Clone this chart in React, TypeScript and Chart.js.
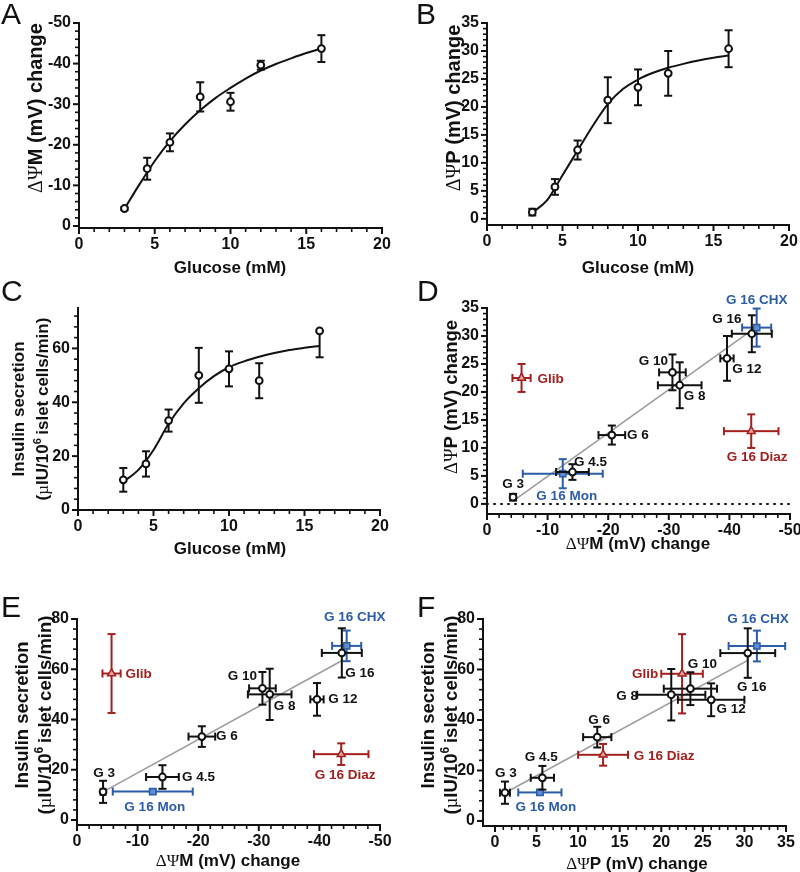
import React, { useEffect, useRef } from 'react';
import { Chart, registerables } from 'chart.js';
Chart.register(...registerables);

// ---------------- data ----------------
const glucose = [3, 4.5, 6, 8, 10, 12, 16];
const glucoseLabels = ['G 3', 'G 4.5', 'G 6', 'G 8', 'G 10', 'G 12', 'G 16'];
const dPsiM = [-4.3, -14.1, -20.6, -31.8, -30.6, -39.6, -43.7];
const dPsiMErr = [0.4, 2.7, 2.2, 3.6, 2.2, 1.1, 3.3];
const dPsiP = [1.2, 5.7, 12.3, 21.2, 23.5, 26.0, 30.4];
const dPsiPErr = [0.6, 1.4, 1.7, 4.1, 3.2, 4.0, 3.3];
const insulin = [11.2, 17.1, 33.2, 50.0, 52.4, 48.0, 66.5];
const insulinErr = [4.4, 4.7, 4.1, 10.2, 6.5, 6.5, 9.8];

const redLabels = ['Glib', 'G 16 Diaz'];
const redM = [-5.7, -43.6];
const redMErr = [1.5, 4.5];
const redP = [22.5, 13.0];
const redPErr = [2.5, 3.0];
const redIns = [58.3, 26.2];
const redInsErr = [15.7, 4.3];

const blueLabels = ['G 16 CHX', 'G 16 Mon'];
const blueM = [-44.5, -12.5];
const blueMErr = [2.4, 6.6];
const blueP = [31.5, 5.4];
const bluePErr = [3.4, 2.6];
const blueIns = [69.3, 11.3];
const blueInsErr = [6.1, 0.8];

// fitted curves
const fitGlucose = [3, 4, 5, 6, 7, 8, 9, 10, 11, 12, 13, 14, 15, 16];
const fitM = [-4.2, -10.3, -16.0, -20.9, -25.0, -28.5, -31.5, -34.0, -36.3, -38.3, -39.9, -41.3, -42.6, -43.7];
const fitP = [1.1, 3.4, 7.8, 12.2, 16.6, 20.5, 23.2, 24.9, 26.1, 27.0, 27.7, 28.3, 28.8, 29.2];
const fitIns = [10.5, 14.9, 22.3, 32.0, 39.6, 45.2, 49.7, 53.0, 55.2, 56.9, 58.3, 59.4, 60.2, 60.9];

// regression lines
const regDx = [-4.4, -44.3];
const regDy = [0.6, 31.5];
const regEx = [-4.3, -43.9];
const regEy = [11.2, 63.7];
const regFx = [1.2, 30.5];
const regFy = [11.1, 63.8];
const zeroX = [0, -50];
const zeroY = [0, 0];

// ---------------- styles ----------------
const SANS = '"Liberation Sans", Arial, sans-serif';
const SERIF = '"Liberation Serif", "DejaVu Serif", serif';
const BLACK = '#111111';
const BLUE = '#2b5ca8';
const BLUE_FILL = '#5d8dd2';
const RED = '#a3201e';
const RED_FILL = '#e7a2a0';
const GREY = '#9c9c9c';

const pts = (xs: number[], ys: number[]) => xs.map((x, i) => ({ x, y: ys[i] }));

const psiTitle = (letter: string, size: number) => [
  { t: 'ΔΨ', f: `${size}px ${SERIF}` },
  { t: letter + ' (mV) change', f: `bold ${size}px ${SANS}` },
];
const insTitle1 = (size: number) => [{ t: 'Insulin secretion', f: `bold ${size}px ${SANS}` }];
const insTitle2 = (size: number) => [
  { t: '(', f: `bold ${size}px ${SANS}` },
  { t: 'µ', f: `${size}px ${SERIF}` },
  { t: 'IU/10', f: `bold ${size}px ${SANS}` },
  { t: '6', f: `bold ${Math.round(size * 0.65)}px ${SANS}`, dy: -Math.round(size * 0.42) },
  { t: '\u2009islet cells/min)', f: `bold ${size}px ${SANS}` },
];
const glucoseTitle = [{ t: 'Glucose (mM)', f: `bold 17px ${SANS}` }];
const letter = (t: string) => [{ t, f: `30px ${SANS}` }];

// ---------------- dataset builders ----------------
function lineSet(xs: number[], ys: number[], color: string, width: number, order: number, dash?: number[], tension = 0) {
  return {
    data: pts(xs, ys), showLine: true, pointRadius: 0, borderColor: color, borderWidth: width,
    borderDash: dash || [], tension, cubicInterpolationMode: tension ? 'monotone' : 'default', order,
    borderCapStyle: dash ? 'round' : 'butt', clip: false,
  };
}
function blackSet(xs: number[], ys: number[], ex: number[] | null, ey: number[] | null) {
  return {
    key: 'black', data: pts(xs, ys), pointStyle: 'circle', pointRadius: 3.4, pointBorderWidth: 2,
    backgroundColor: '#ffffff', borderColor: BLACK, errX: ex, errY: ey, errColor: BLACK, order: 1, clip: false,
  };
}
function blueSet(xs: number[], ys: number[], ex: number[], ey: number[]) {
  return {
    key: 'blue', data: pts(xs, ys), pointStyle: 'rect', pointRadius: 4.4, pointBorderWidth: 1.5,
    backgroundColor: BLUE_FILL, borderColor: BLUE, errX: ex, errY: ey, errColor: BLUE, order: 2, clip: false,
  };
}
function redSet(xs: number[], ys: number[], ex: number[], ey: number[]) {
  return {
    key: 'red', data: pts(xs, ys), pointStyle: 'triangle', pointRadius: 4.6, pointBorderWidth: 1.5,
    backgroundColor: RED_FILL, borderColor: RED, errX: ex, errY: ey, errColor: RED, order: 3, clip: false,
  };
}

// ---------------- plugins ----------------
const errorBarPlugin = {
  id: 'errbars',
  beforeDatasetDraw(chart: any, args: any) {
    const ds: any = chart.data.datasets[args.index];
    if (!ds.errX && !ds.errY) return;
    const meta = args.meta;
    const xs = chart.scales[meta.xAxisID];
    const ys = chart.scales[meta.yAxisID];
    const ctx = chart.ctx;
    const cap = 4;
    ctx.save();
    ctx.strokeStyle = ds.errColor;
    ctx.lineWidth = 2;
    const seg = (a: number, b: number, c: number, d: number) => {
      ctx.beginPath(); ctx.moveTo(a, b); ctx.lineTo(c, d); ctx.stroke();
    };
    ds.data.forEach((p: any, i: number) => {
      const px = xs.getPixelForValue(p.x);
      const py = ys.getPixelForValue(p.y);
      if (ds.errY) {
        for (const s of [1, -1]) {
          const v = p.y + s * ds.errY[i];
          if (v > ys.max || v < ys.min) continue;
          const q = ys.getPixelForValue(v);
          seg(px, py, px, q);
          seg(px - cap, q, px + cap, q);
        }
      }
      if (ds.errX) {
        for (const s of [1, -1]) {
          const v = p.x + s * ds.errX[i];
          if (v > xs.max || v < xs.min) continue;
          const q = xs.getPixelForValue(v);
          seg(px, py, q, py);
          seg(q, py - cap, q, py + cap);
        }
      }
    });
    ctx.restore();
  },
};

function ticksPlugin(spec: any) {
  return {
    id: 'axisTicks',
    afterDraw(chart: any) {
      const ctx = chart.ctx;
      const a = chart.chartArea;
      ctx.save();
      ctx.strokeStyle = BLACK;
      const draw = (axis: string, sp: any) => {
        const sc = chart.scales[axis];
        const n = Math.round((sp.to - sp.from) / sp.minor);
        for (let k = 0; k <= n; k++) {
          const v = sp.from + k * sp.minor;
          const r = v / sp.major;
          const major = Math.abs(r - Math.round(r)) < 1e-6;
          const len = major ? 6 : 4;
          ctx.lineWidth = major ? 2 : 1.6;
          const p = sc.getPixelForValue(v);
          ctx.beginPath();
          if (axis === 'x') { ctx.moveTo(p, a.bottom); ctx.lineTo(p, a.bottom + len); }
          else { ctx.moveTo(a.left, p); ctx.lineTo(a.left - len, p); }
          ctx.stroke();
        }
      };
      draw('x', spec.x);
      draw('y', spec.y);
      ctx.restore();
    },
  };
}

function labelsPlugin(items: any[]) {
  return {
    id: 'ptLabels',
    afterDatasetsDraw(chart: any) {
      const ctx = chart.ctx;
      ctx.save();
      ctx.font = `bold 13.5px ${SANS}`;
      ctx.textAlign = 'center';
      ctx.textBaseline = 'middle';
      for (const it of items) {
        const idx = chart.data.datasets.findIndex((d: any) => d.key === it.key);
        const el = chart.getDatasetMeta(idx).data[it.i];
        ctx.fillStyle = it.color;
        ctx.fillText(it.text, el.x + it.dx, el.y + it.dy);
      }
      ctx.restore();
    },
  };
}

function textPlugin(items: any[], origin: any) {
  return {
    id: 'richText',
    afterDraw(chart: any) {
      const ctx = chart.ctx;
      for (const it of items) {
        ctx.save();
        ctx.translate(it.x - origin.x, it.y - origin.y);
        if (it.rot) ctx.rotate(-Math.PI / 2);
        ctx.textAlign = 'left';
        ctx.textBaseline = 'alphabetic';
        ctx.fillStyle = BLACK;
        let w = 0;
        for (const s of it.segs) { ctx.font = s.f; w += ctx.measureText(s.t).width; }
        let cx = it.align === 'left' ? 0 : -w / 2;
        const base = it.shift ?? 6;
        for (const s of it.segs) {
          ctx.font = s.f;
          ctx.fillText(s.t, cx, base + (s.dy || 0));
          cx += ctx.measureText(s.t).width;
        }
        ctx.restore();
      }
    },
  };
}

function makeLabels(off: any) {
  const out: any[] = [];
  const groups: any = { black: [glucoseLabels, BLACK], red: [redLabels, RED], blue: [blueLabels, BLUE] };
  for (const key of Object.keys(off)) {
    const [texts, color] = groups[key];
    off[key].forEach((o: number[], i: number) => out.push({ key, i, text: texts[i], dx: o[0], dy: o[1], color }));
  }
  return out;
}

// ---------------- panels ----------------
const panels: any[] = [
  {
    rect: { x: 0, y: 0, w: 400, h: 280 }, area: { l: 79, r: 382, t: 23, b: 228 },
    x: { min: 0, max: 20, step: 5 }, y: { min: -50, max: 0.5, step: 10, reverse: true },
    ticks: { x: { from: 0, to: 20, major: 5, minor: 1 }, y: { from: -50, to: 0, major: 10, minor: 2 } },
    datasets: [lineSet(fitGlucose, fitM, BLACK, 2, 8, undefined, 0.4), blackSet(glucose, dPsiM, null, dPsiMErr)],
    labels: [],
    texts: [
      { x: 1, y: 13, segs: letter('A'), align: 'left', shift: 11 },
      { x: 35, y: 108, rot: true, segs: psiTitle('M', 20), shift: 7 },
      { x: 230, y: 267, segs: glucoseTitle },
    ],
  },
  {
    rect: { x: 400, y: 0, w: 400, h: 280 }, area: { l: 487, r: 789, t: 23, b: 225 },
    x: { min: 0, max: 20, step: 5 }, y: { min: -1.1, max: 35, step: 5 },
    ticks: { x: { from: 0, to: 20, major: 5, minor: 1 }, y: { from: 0, to: 35, major: 5, minor: 1 } },
    datasets: [lineSet(fitGlucose, fitP, BLACK, 2, 8, undefined, 0.4), blackSet(glucose, dPsiP, null, dPsiPErr)],
    labels: [],
    texts: [
      { x: 416, y: 13, segs: letter('B'), align: 'left', shift: 11 },
      { x: 453, y: 108, rot: true, segs: psiTitle('P', 20), shift: 7 },
      { x: 638, y: 267, segs: glucoseTitle },
    ],
  },
  {
    rect: { x: 0, y: 275, w: 400, h: 300 }, area: { l: 78, r: 380, t: 308, b: 510 },
    x: { min: 0, max: 20, step: 5 }, y: { min: 0, max: 75, step: 20 },
    ticks: { x: { from: 0, to: 20, major: 5, minor: 1 }, y: { from: 0, to: 72, major: 20, minor: 4 } },
    datasets: [lineSet(fitGlucose, fitIns, BLACK, 2, 8, undefined, 0.4), blackSet(glucose, insulin, null, insulinErr)],
    labels: [],
    texts: [
      { x: 1, y: 290, segs: letter('C'), align: 'left', shift: 11 },
      { x: 18, y: 409, rot: true, segs: insTitle1(17) },
      { x: 42, y: 409, rot: true, segs: insTitle2(17) },
      { x: 230, y: 548, segs: glucoseTitle },
    ],
  },
  {
    rect: { x: 400, y: 275, w: 400, h: 300 }, area: { l: 487, r: 790, t: 308, b: 514 },
    x: { min: -50, max: 0, step: 10, reverse: true }, y: { min: -1.8, max: 35, step: 5 },
    ticks: { x: { from: -50, to: 0, major: 10, minor: 2 }, y: { from: 0, to: 35, major: 5, minor: 1 } },
    datasets: [
      lineSet(zeroX, zeroY, BLACK, 2, 9, [1, 6]),
      lineSet(regDx, regDy, GREY, 1.6, 8),
      redSet(redM, redP, redMErr, redPErr),
      blueSet(blueM, blueP, blueMErr, bluePErr),
      blackSet(dPsiM, dPsiP, dPsiMErr, dPsiPErr),
    ],
    labels: makeLabels({
      black: [[0, -13], [18, -10], [26, 0], [15, 11], [-19, -11], [20, 11], [-25, -14]],
      red: [[29, 1], [6, 26]],
      blue: [[0, -27], [4, 23]],
    }),
    texts: [
      { x: 417, y: 290, segs: letter('D'), align: 'left', shift: 11 },
      { x: 450, y: 397, rot: true, segs: psiTitle('P', 18.5), shift: 7 },
      { x: 638, y: 543, segs: psiTitle('M', 17) },
    ],
  },
  {
    rect: { x: 0, y: 575, w: 400, h: 297 }, area: { l: 77, r: 380, t: 619, b: 825 },
    x: { min: -50, max: 0, step: 10, reverse: true }, y: { min: -2, max: 80, step: 20 },
    ticks: { x: { from: -50, to: 0, major: 10, minor: 2 }, y: { from: 0, to: 80, major: 20, minor: 4 } },
    datasets: [
      lineSet(regEx, regEy, GREY, 1.6, 8),
      redSet(redM, redIns, redMErr, redInsErr),
      blueSet(blueM, blueIns, blueMErr, blueInsErr),
      blackSet(dPsiM, insulin, dPsiMErr, insulinErr),
    ],
    labels: makeLabels({
      black: [[1, -19], [36, 0], [25, 0], [15, 12], [-20, -12], [26, 0], [18, 20]],
      red: [[27, 1], [4, 21]],
      blue: [[8, -29], [2, 16]],
    }),
    texts: [
      { x: 1, y: 606, segs: letter('E'), align: 'left', shift: 11 },
      { x: 22, y: 715, rot: true, segs: insTitle1(18.5) },
      { x: 45, y: 715, rot: true, segs: insTitle2(18.5) },
      { x: 228, y: 860, segs: psiTitle('M', 17) },
    ],
  },
  {
    rect: { x: 400, y: 575, w: 400, h: 297 }, area: { l: 483, r: 786, t: 619, b: 826 },
    x: { min: -1.44, max: 35, step: 5 }, y: { min: -2, max: 80, step: 20 },
    ticks: { x: { from: 0, to: 35, major: 5, minor: 1 }, y: { from: 0, to: 80, major: 20, minor: 4 } },
    datasets: [
      lineSet(regFx, regFy, GREY, 1.6, 8),
      redSet(redP, redIns, redPErr, redInsErr),
      blueSet(blueP, blueIns, bluePErr, blueInsErr),
      blackSet(dPsiP, insulin, dPsiPErr, insulinErr),
    ],
    labels: makeLabels({
      black: [[1, -19], [-1, -21], [2, -17], [-44, 2], [12, -24], [20, 10], [4, 34]],
      red: [[-37, 1], [61, 1]],
      blue: [[1, -27], [6, 15]],
    }),
    texts: [
      { x: 417, y: 606, segs: letter('F'), align: 'left', shift: 11 },
      { x: 428, y: 715, rot: true, segs: insTitle1(18.5) },
      { x: 451, y: 715, rot: true, segs: insTitle2(18.5) },
      { x: 637, y: 863, segs: psiTitle('P', 17) },
    ],
  },
];

function buildConfig(p: any) {
  const { rect, area } = p;
  const tickFont = { family: SANS, size: 16, weight: 'bold' as const };
  const axisCommon = {
    type: 'linear',
    grid: { display: false, drawTicks: false },
    border: { display: true, color: BLACK, width: 2 },
  };
  return {
    type: 'scatter',
    data: { datasets: p.datasets },
    options: {
      animation: false,
      responsive: false,
      devicePixelRatio: 1,
      events: [],
      layout: {
        autoPadding: false,
        padding: { left: 0, bottom: 0, top: area.t - rect.y, right: rect.x + rect.w - area.r },
      },
      plugins: { legend: { display: false }, tooltip: { enabled: false } },
      scales: {
        x: {
          ...axisCommon,
          min: p.x.min, max: p.x.max, reverse: !!p.x.reverse,
          ticks: { stepSize: p.x.step, includeBounds: false, autoSkip: false, maxRotation: 0, color: BLACK, font: tickFont, padding: 7 },
          afterFit: (s: any) => { s.height = rect.y + rect.h - area.b; s.paddingLeft = 0; s.paddingRight = 0; },
        },
        y: {
          ...axisCommon,
          min: p.y.min, max: p.y.max, reverse: !!p.y.reverse,
          ticks: { stepSize: p.y.step, includeBounds: false, autoSkip: false, color: BLACK, font: tickFont, padding: 8 },
          afterFit: (s: any) => { s.width = area.l - rect.x; s.paddingTop = 0; s.paddingBottom = 0; },
        },
      },
    },
    plugins: [errorBarPlugin, ticksPlugin(p.ticks), labelsPlugin(p.labels), textPlugin(p.texts, rect)],
  };
}

function Panel({ spec }: { spec: any }) {
  const ref = useRef<HTMLCanvasElement>(null);
  useEffect(() => {
    const chart = new Chart(ref.current as HTMLCanvasElement, buildConfig(spec) as any);
    return () => chart.destroy();
  }, [spec]);
  const r = spec.rect;
  return (
    <canvas
      ref={ref}
      width={r.w}
      height={r.h}
      style={{ position: 'absolute', left: r.x, top: r.y, width: r.w, height: r.h }}
    />
  );
}

export default function App() {
  return (
    <div style={{ position: 'absolute', left: 0, top: 0, width: 800, height: 872, background: '#ffffff', overflow: 'hidden' }}>
      {panels.map((p, i) => <Panel key={i} spec={p} />)}
    </div>
  );
}
